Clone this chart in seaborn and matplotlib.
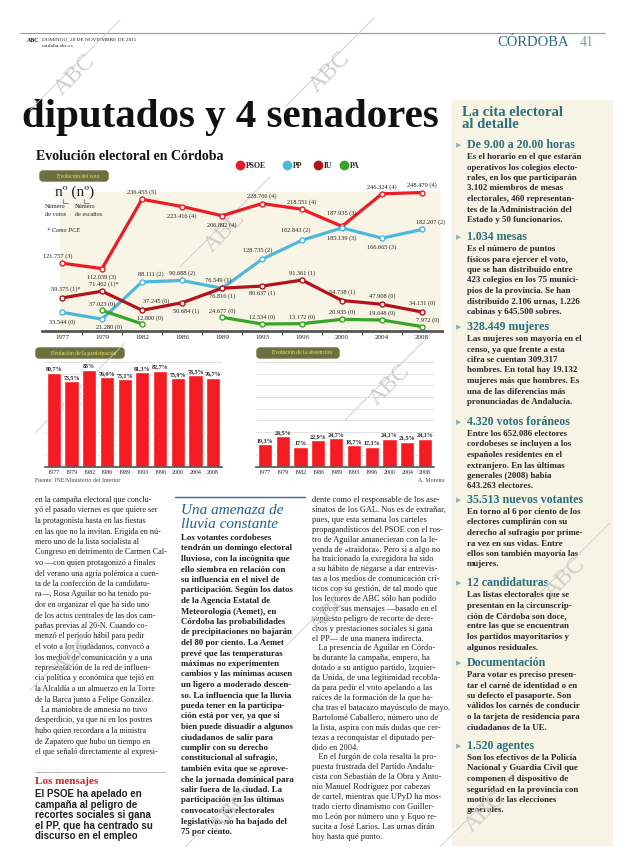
import matplotlib
matplotlib.use("Agg")
import matplotlib.pyplot as plt
import seaborn as sns
import pandas as pd
import numpy as np
from matplotlib.patches import Rectangle, FancyBboxPatch

sns.set_theme(style="white")
plt.rcParams['font.family'] = ['Liberation Serif', 'DejaVu Serif']

# ---------------- data ----------------
years = ["1977", "1979", "1982", "1986", "1989", "1993", "1996", "2000", "2004", "2008"]
parties = ["PSOE", "PP", "IU", "PA"]
psoe_votes = [121757, 112039, 236455, 223416, 206892, 228766, 218551, 187935, 246324, 248470]
psoe_seats = [3, 3, 5, 4, 4, 4, 4, 3, 4, 4]
pp_votes = [33544, 21280, 88111, 90688, 76549, 128735, 162843, 185139, 166665, 182207]
pp_seats = [0, 0, 2, 2, 1, 2, 2, 3, 3, 2]
iu_votes = [59375, 71462, 37245, 50684, 76816, 80637, 91361, 54738, 47908, 34131]
iu_seats = [1, 1, 0, 1, 1, 1, 1, 1, 0, 0]
iu_note = ["*", "*", "", "", "", "", "", "", "", ""]
pa_votes = [None, 37023, 12800, None, 24677, 12534, 13172, 20935, 19648, 7972]
pa_seats = [None, 0, 0, None, 0, 0, 0, 0, 0, 0]
participacion = [80.7, 73.5, 83.0, 76.9, 75.1, 81.3, 82.7, 75.9, 78.5, 76.7]
abstencion = [19.3, 26.5, 17.0, 22.9, 24.7, 18.7, 17.3, 24.1, 21.5, 24.1]

colors = {"PSOE": "#ec1c24", "PP": "#4db8dc", "IU": "#b3121a", "PA": "#35a626"}

# label offsets (page px: dx, dy down)
offs = {
    "PSOE": [(-4, -7), (0, 9), (0, -7), (0, 10), (0, 9), (0, -7), (0, -7), (0, -13), (0, -7), (0, -7)],
    "PP": [(0, 10), (7, 8), (9, -8), (0, -7), (-4, -8), (-4, -9), (-6, -10), (0, 10), (0, 9), (9, -7)],
    "IU": [(4, -9), (2, -7), (14, -9), (4, 8), (0, 8), (0, 7), (0, -7), (0, -8), (0, -8), (0, -9)],
    "PA": [(0, -6), (0, -6), (8, -6), (0, -6), (0, -6), (0, -7), (0, -7), (0, -7), (0, -7), (6, -6)],
}

W, H = 620, 847
fig = plt.figure(figsize=(W / 100, H / 100), dpi=100)

# overlay axes in page pixel coordinates
bg = fig.add_axes([0, 0, 1, 1])
bg.set_xlim(0, W)
bg.set_ylim(H, 0)
bg.axis("off")

def ax_rect(l, t, r, b):
    return [l / W, 1 - b / H, (r - l) / W, (b - t) / H]

def T(x, y, s, **kw):
    kw.setdefault("va", "center")
    kw.setdefault("ha", "left")
    bg.text(x, y, s, **kw)

def lines(x, y0, dy, lst, **kw):
    for i, s in enumerate(lst):
        T(x, y0 + i * dy, s, **kw)

TEAL = "#2a6f7c"
DARK = "#231f20"

# ---- header ----
bg.plot([20, 605], [33, 33], color="#9a9a9a", lw=0.8)
T(27, 40, "ABC", fontsize=4.2, fontweight="bold", color=DARK)
T(42, 40, "DOMINGO, 20 DE NOVIEMBRE DE 2011", fontsize=3.8, color=DARK)
T(42, 46, "cordoba.abc.es", fontsize=3.8, color=DARK)
T(497, 42, "CÓRDOBA", fontsize=10.5, color=TEAL)
T(580, 42, "41", fontsize=10, color="#8a9a9a")

# ---- headline ----
T(22, 127, "diputados y 4 senadores", fontsize=29.5, fontweight="bold", color="#111111", va="baseline")

# ---- sidebar ----
bg.add_patch(Rectangle((452, 100), 160, 745, color="#f7f4e6", zorder=0))
T(462, 112, "La cita electoral", fontsize=10.5, fontweight="bold", color=TEAL)
T(462, 125, "al detalle", fontsize=10.5, fontweight="bold", color=TEAL)
side = [
    (145, "De 9.00 a 20.00 horas", ["Es el horario en el que estarán", "operativos los colegios electo-",
                                    "rales, en los que participarán", "3.102 miembros de mesas",
                                    "electorales, 460 representan-", "tes de la Administración del",
                                    "Estado y 50 funcionarios."]),
    (237, "1.034 mesas", ["Es el número de puntos", "físicos para ejercer el voto,",
                          "que se han distribuido entre", "423 colegios en los 75 munici-",
                          "pios de la provincia. Se han", "distribuido 2.106 urnas, 1.226",
                          "cabinas y 645.500 sobres."]),
    (327, "328.449 mujeres", ["Las mujeres son mayoría en el", "censo, ya que frente a esta",
                              "cifra se cuentan 309.317", "hombres. En total hay 19.132",
                              "mujeres más que hombres. Es", "una de las diferencias más",
                              "pronunciadas de Andalucía."]),
    (422, "4.320 votos foráneos", ["Entre los 652.086 electores", "cordobeses se incluyen a los",
                                   "españoles residentes en el", "extranjero. En las últimas",
                                   "generales (2008) había", "643.263 electores."]),
    (500, "35.513 nuevos votantes", ["En torno al 6 por ciento de los", "electores cumplirán con su",
                                     "derecho al sufragio por prime-", "ra vez en sus vidas. Entre",
                                     "ellos son también mayoría las", "mujeres."]),
    (583, "12 candidaturas", ["Las listas electorales que se", "presentan en la circunscrip-",
                              "ción de Córdoba son doce,", "entre las que se encuentran",
                              "los partidos mayoritarios y", "algunos residuales."]),
    (663, "Documentación", ["Para votar es preciso presen-", "tar el carné de identidad o en",
                            "su defecto el pasaporte. Son", "válidos los carnés de conducir",
                            "o la tarjeta de residencia para", "ciudadanos de la UE."]),
    (746, "1.520 agentes", ["Son los efectivos de la Policía", "Nacional y Guardia Civil que",
                            "componen el dispositivo de", "seguridad en la provincia con",
                            "motivo de las elecciones", "generales."]),
]
for y, head, body in side:
    T(456, y, "▶", fontsize=5, color="#8fb5bf", family=["DejaVu Sans"])
    T(467, y, head, fontsize=8.6, fontweight="bold", color=TEAL)
    lines(467, y + 12, 10.5, body, fontsize=6.4, fontweight="bold", color="#2a2a2a")

# ---- bottom columns ----
left_col = ["en la campaña electoral que conclu-", "yó el pasado viernes es que quiere ser",
            "la protagonista hasta en las fiestas", "en las que no la invitan. Erigida en nú-",
            "mero uno de la lista socialista al", "Congreso en detrimento de Carmen Cal-",
            "vo —con quien protagonizó a finales", "del verano una agria polémica a cuen-",
            "ta de la confección de la candidatu-", "ra—, Rosa Aguilar no ha tenido pu-",
            "dor en organizar el que ha sido uno", "de los actos centrales de las dos cam-",
            "pañas previas al 20-N. Cuando co-", "menzó el período hábil para pedir",
            "el voto a los ciudadanos, convocó a", "los medios de comunicación y a una",
            "representación de la red de influen-", "cia política y económica que tejió en",
            "la Alcaldía a un almuerzo en la Torre", "de la Barca junto a Felipe González.",
            "   La maniobra de amnesia no tuvo", "desperdicio, ya que ni en los postres",
            "hubo quien recordara a la ministra", "de Zapatero que hubo un tiempo en",
            "el que señaló directamente al expresi-"]
lines(35, 500, 10.5, left_col, fontsize=5.9, color=DARK)
bg.plot([35, 165], [772, 772], color="#b0b0b0", lw=0.6)
T(35, 781, "Los mensajes", fontsize=8, fontweight="bold", color="#d0202a")
lines(35, 794, 10.6, ["El PSOE ha apelado en", "campaña al peligro de", "recortes sociales si gana",
                      "el PP, que ha centrado su", "discurso en el empleo"],
      fontsize=7.0, fontweight="bold", color=DARK, family=["Liberation Sans"])

bg.plot([175, 305], [497, 497], color="#2a6fa5", lw=1.0)
T(181, 510, "Una amenaza de", fontsize=11, style="italic", color="#1f5f95")
T(181, 524, "lluvia constante", fontsize=11, style="italic", color="#1f5f95")
mid_col = ["Los votantes cordobeses", "tendrán un domingo electoral", "lluvioso, con la incógnita que",
           "ello siembra en relación con", "su influencia en el nivel de", "participación. Según los datos",
           "de la Agencia Estatal de", "Meteorología (Aemet), en", "Córdoba las probabilidades",
           "de precipitaciones no bajarán", "del 80 por ciento. La Aemet", "prevé que las temperaturas",
           "máximas no experimenten", "cambios y las mínimas acusen", "un ligero a moderado descen-",
           "so. La influencia que la lluvia", "pueda tener en la participa-", "ción está por ver, ya que si",
           "bien puede disuadir a algunos", "ciudadanos de salir para", "cumplir con su derecho",
           "constitucional al sufragio,", "también evita que se aprove-", "che la jornada dominical para",
           "salir fuera de la ciudad. La", "participación en las últimas", "convocatorias electorales",
           "legislativas no ha bajado del", "75 por ciento."]
lines(181, 538, 10.5, mid_col, fontsize=6.3, fontweight="bold", color=DARK)

right_col = ["dente como el responsable de los ase-", "sinatos de los GAL. Nos es de extrañar,",
             "pues, que esta semana los carteles", "propagandísticos del PSOE con el ros-",
             "tro de Aguilar amanecieran con la le-", "yenda de «traidora». Pero si a algo no",
             "ha traicionado la exregidora ha sido", "a su hábito de negarse a dar entrevis-",
             "tas a los medios de comunicación crí-", "ticos con su gestión, de tal modo que",
             "los lectores de ABC sólo han podido", "conocer sus mensajes —basado en el",
             "supuesto peligro de recorte de dere-", "chos y prestaciones sociales si gana",
             "el PP— de una manera indirecta.", "   La presencia de Aguilar en Córdo-",
             "ba durante la campaña, empero, ha", "dotado a su antiguo partido, Izquier-",
             "da Unida, de una legitimidad recobla-", "da para pedir el voto apelando a las",
             "raíces de la formación de la que ha-", "cha tras el batacazo mayúsculo de mayo.",
             "Bartolomé Caballero, número uno de", "la lista, aspira con más dudas que cer-",
             "tezas a reconquistar el diputado per-", "dido en 2004.",
             "   En el furgón de cola resalta la pro-", "puesta frustrada del Partido Andalu-",
             "cista con Sebastián de la Obra y Anto-", "nio Manuel Rodríguez por cabezas",
             "de cartel, mientras que UPyD ha mos-", "trado cierto dinamismo con Guiller-",
             "mo León por número uno y Equo re-", "sucita a José Larios. Las urnas dirán",
             "hoy hasta qué punto."]
lines(312, 500, 9.9, right_col, fontsize=6.0, color=DARK)

# ---- main chart decorations ----
T(36, 157, "Evolución electoral en Córdoba", fontsize=10, fontweight="bold", color="#111111")
for x, p in zip([240, 287, 318, 344], parties):
    bg.plot([x], [165], "o", ms=6, color=colors[p])
    T(x + 6, 165.5, p, fontsize=5.5, fontweight="bold", color=DARK)

def pill(x0, y0, w, h, s):
    bg.add_patch(FancyBboxPatch((x0, y0), w, h, boxstyle="round,pad=0,rounding_size=3",
                                color="#6d6f3f", zorder=2))
    T(x0 + w / 2 + 4, y0 + h / 2, s, fontsize=4.0, color="#f2e46a", zorder=3, ha="center")

pill(40, 171, 68, 10, "Evolución del voto")
pill(36, 348, 88, 10, "Evolución de la participación")
pill(257, 348, 82, 10, "Evolución de la abstención")

bg.add_patch(Rectangle((60, 192), 380, 136, color="#f8f5e6", zorder=0))
T(55, 192, "nº (nº)", fontsize=11, color=DARK)
bg.plot([63, 63, 68], [199, 203, 203], color="#555", lw=0.5)
bg.plot([84, 84, 89], [199, 203, 203], color="#555", lw=0.5)
T(45, 207, "Número", fontsize=4.5, color=DARK)
T(45, 214, "de votos", fontsize=4.5, color=DARK)
T(75, 207, "Número", fontsize=4.5, color=DARK)
T(75, 214, "de escaños", fontsize=4.5, color=DARK)
T(47, 231, "* Como PCE", fontsize=4.5, style="italic", color=DARK)

T(35, 480, "Fuente: INE/Ministerio del Interior", fontsize=4.3, color="#444")
T(445, 480, "A. Moreno", fontsize=4.3, color="#444", ha="right")

# ---- watermarks ----
for (cx, cy) in [(75, 75), (330, 72), (225, 232), (80, 398), (390, 385), (75, 655), (330, 612),
                 (565, 578), (230, 812), (485, 812)]:
    bg.plot([cx - 45, cx + 45], [cy + 35, cy - 55], color="#c9c9c9", lw=0.6, zorder=6)
    T(cx, cy, "ABC", fontsize=17, color="#c9c9c9", rotation=45, ha="center", zorder=6,
      alpha=0.9)

# ---- line chart ----
rows = []
series = {"PSOE": (psoe_votes, psoe_seats), "PP": (pp_votes, pp_seats),
          "IU": (iu_votes, iu_seats), "PA": (pa_votes, pa_seats)}
for p in parties:
    v, s = series[p]
    seg = 0
    for i, val in enumerate(v):
        if val is None:
            seg += 1
            continue
        rows.append({"idx": i, "votes": val, "party": p, "seg": f"{p}{seg}",
                     "seats": s[i], "note": iu_note[i] if p == "IU" else ""})
df = pd.DataFrame(rows)

ax = fig.add_axes(ax_rect(42, 175, 442, 331))
ax.set_facecolor("none")
sns.lineplot(data=df, x="idx", y="votes", hue="party", units="seg", estimator=None,
             palette=colors, hue_order=parties, marker="o", markersize=3.6,
             linewidth=2.3, legend=False, ax=ax, sort=True)
for ln in ax.lines:
    c = ln.get_color()
    ln.set_markerfacecolor("white")
    ln.set_markeredgecolor(c)
    ln.set_markeredgewidth(1.0)

for _, r in df.iterrows():
    dx, dy = offs[r["party"]][r["idx"]]
    lab = f"{int(r['votes']):,}".replace(",", ".") + f" ({int(r['seats'])})" + r["note"]
    ax.annotate(lab, (r["idx"], r["votes"]), xytext=(dx * 0.72, -dy * 0.72),
                textcoords="offset points", ha="center", va="center",
                fontsize=4.6, color=DARK)

ax.set_xlim(-0.5, 9.5)
ax.set_ylim(0, 280000)
ax.set_xticks(range(10))
ax.set_xticklabels(years, fontsize=5, color=DARK)
ax.set_xticks(np.arange(0.5, 9.5, 1), minor=True)
ax.tick_params(axis="x", which="major", length=0, pad=3)
ax.tick_params(axis="x", which="minor", length=3, width=0.8, color="#444", direction="out", bottom=True)
ax.set_yticks([])
ax.set_xlabel("")
ax.set_ylabel("")
for sp in ["top", "right", "left"]:
    ax.spines[sp].set_visible(False)
ax.spines["bottom"].set_color("#555")
ax.spines["bottom"].set_linewidth(2)

# ---- bar charts ----
def barchart(rect, vals):
    a = fig.add_axes(rect)
    a.set_facecolor("none")
    d = pd.DataFrame({"year": years, "val": vals})
    sns.barplot(data=d, x="year", y="val", color="#f41b22", width=0.8, ax=a, saturation=1)
    for i, v in enumerate(vals):
        s = (f"{v:.1f}".replace(".", ",") if v % 1 else f"{int(v)}") + "%"
        a.text(i, v + 1.2, s, ha="center", va="bottom", fontsize=4.3, fontweight="bold", color=DARK)
    a.set_ylim(0, 90)
    a.set_xlim(-0.5, 9.5)
    a.set_yticks(range(10, 91, 10))
    a.yaxis.grid(True, color="#dcdcdc", lw=0.6)
    a.set_axisbelow(True)
    a.tick_params(axis="y", length=0, labelleft=False)
    a.tick_params(axis="x", length=0, pad=2, labelsize=4.3, colors=DARK)
    a.set_xlabel("")
    a.set_ylabel("")
    for sp in ["top", "right", "left"]:
        a.spines[sp].set_visible(False)
    a.spines["bottom"].set_color("#555")
    a.spines["bottom"].set_linewidth(1.2)
    return a

barchart(ax_rect(45, 362, 222, 467), participacion)
barchart(ax_rect(256, 362, 434, 467), abstencion)

fig.savefig("out.png", dpi=100)
